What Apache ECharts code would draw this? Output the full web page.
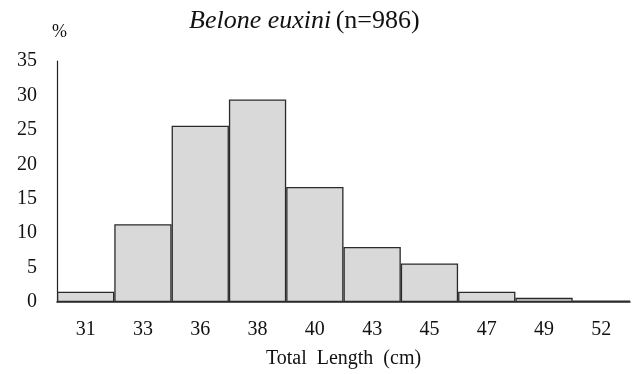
<!DOCTYPE html>
<html>
<head>
<meta charset="utf-8">
<script src="https://cdn.jsdelivr.net/npm/echarts@6/dist/echarts.min.js"></script>
<style>
  html, body { margin: 0; padding: 0; background: #fff; }
  #chart { width: 635px; height: 374px; }
</style>
</head>
<body>
<div id="chart"></div>
<script>
const lengthClasses = ['31', '33', '36', '38', '40', '43', '45', '47', '49', '52']
const percentValues = [1.5, 11.3, 25.6, 29.4, 16.7, 8.0, 5.6, 1.5, 0.6, 0.2]
const yTicks = { min: 0, max: 35, interval: 5 }

const serif = '"Liberation Serif", "DejaVu Serif", serif'
const chart = echarts.init(document.getElementById('chart'))

chart.setOption({
  backgroundColor: '#fff',
  animation: false,
  textStyle: { fontFamily: serif, color: '#111' },
  title: [
    {
      text: '{i|Belone euxini} {n|(n=986)}',
      left: 184,
      top: 3,
      textStyle: {
        rich: {
          i: { fontFamily: serif, fontStyle: 'italic', fontWeight: 'normal', fontSize: 26, color: '#111' },
          n: { fontFamily: serif, fontWeight: 'normal', fontSize: 26, color: '#111' }
        }
      }
    },
    {
      text: '%',
      left: 47,
      top: 18,
      textStyle: { fontFamily: serif, fontSize: 18, fontWeight: 'normal', color: '#111' }
    }
  ],
  grid: { left: 57, right: 5, top: 61, bottom: 72 },
  xAxis: {
    type: 'category',
    data: lengthClasses,
    name: 'Total  Length  (cm)',
    nameLocation: 'middle',
    nameGap: 47,
    nameTextStyle: { fontFamily: serif, fontSize: 20, color: '#111' },
    axisLine: { lineStyle: { color: '#222', width: 1.5 } },
    axisTick: { show: false },
    axisLabel: { fontFamily: serif, fontSize: 20, color: '#111', margin: 18 }
  },
  yAxis: {
    type: 'value',
    min: yTicks.min,
    max: yTicks.max,
    interval: yTicks.interval,
    axisLine: { show: true, lineStyle: { color: '#222', width: 1.2 } },
    axisTick: { show: false },
    splitLine: { show: false },
    axisLabel: { fontFamily: serif, fontSize: 20, color: '#111', margin: 20 }
  },
  series: [
    {
      type: 'bar',
      data: percentValues,
      barCategoryGap: 0,
      itemStyle: { color: '#d9d9d9', borderColor: '#2a2a2a', borderWidth: 1.3 }
    }
  ]
})
</script>
</body>
</html>
